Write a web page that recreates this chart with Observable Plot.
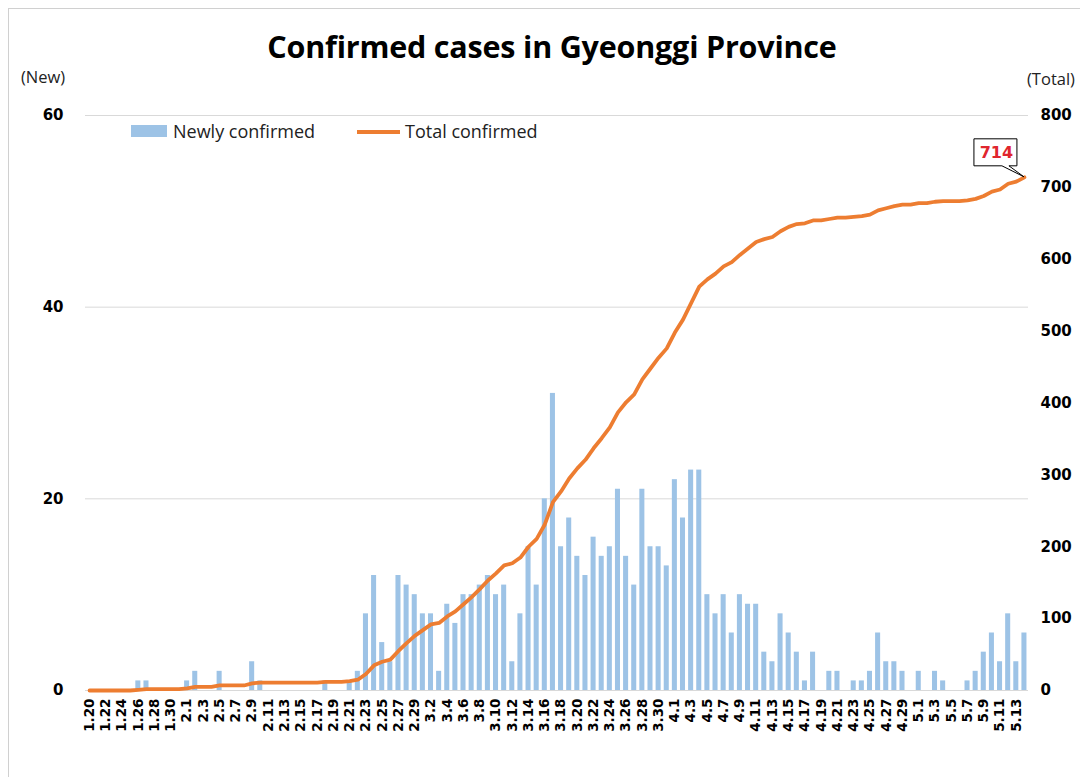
<!DOCTYPE html>
<html>
<head>
<meta charset="utf-8">
<script src="https://cdn.jsdelivr.net/npm/d3@7"></script>
<script src="https://cdn.jsdelivr.net/npm/@observablehq/plot@0.6"></script>
<style>
  body { margin: 0; background: #fff; }
  #wrap { position: relative; width: 1080px; height: 777px; overflow: hidden; background: #fff; }
  #frame { position: absolute; left: 8px; top: 8px; width: 1200px; height: 900px;
           border-left: 1px solid #d0d0d0; border-top: 1px solid #d0d0d0; }
  #title { position: absolute; left: 0; width: 1104px; top: 25px; text-align: center;
           font: 700 30.5px "Open Sans", sans-serif; color: #000; letter-spacing: -0.2px; }
  .unit { position: absolute; font: 400 16.5px "Open Sans", sans-serif; color: #222; }
  #legend { position: absolute; left: 131px; top: 119px; font: 400 18px "Open Sans", sans-serif; color: #222; }
  #legend span { position: absolute; white-space: nowrap; }
  #chart { position: absolute; left: 0; top: 95px; }
</style>
</head>
<body>
<div id="wrap">
  <div id="frame"></div>
  <div id="title">Confirmed cases in Gyeonggi Province</div>
  <div class="unit" style="left:21px;top:65px;">(New)</div>
  <div class="unit" style="left:1027px;top:67px;">(Total)</div>
  <div id="chart"></div>
  <div id="legend">
    <span style="left:0;top:6px;width:36px;height:12px;background:#9dc3e6;"></span>
    <span style="left:42px;top:0;">Newly confirmed</span>
    <span style="left:226px;top:11px;width:43px;height:3.5px;background:#ed7d31;"></span>
    <span style="left:274px;top:0;">Total confirmed</span>
  </div>
</div>
<script>
const dates = [
  "1.20","1.21","1.22","1.23","1.24","1.25","1.26","1.27","1.28","1.29","1.30","1.31",
  "2.1","2.2","2.3","2.4","2.5","2.6","2.7","2.8","2.9","2.10","2.11","2.12","2.13","2.14","2.15",
  "2.16","2.17","2.18","2.19","2.20","2.21","2.22","2.23","2.24","2.25","2.26","2.27","2.28","2.29",
  "3.1","3.2","3.3","3.4","3.5","3.6","3.7","3.8","3.9","3.10","3.11","3.12","3.13","3.14","3.15",
  "3.16","3.17","3.18","3.19","3.20","3.21","3.22","3.23","3.24","3.25","3.26","3.27","3.28","3.29",
  "3.30","3.31",
  "4.1","4.2","4.3","4.4","4.5","4.6","4.7","4.8","4.9","4.10","4.11","4.12","4.13","4.14","4.15",
  "4.16","4.17","4.18","4.19","4.20","4.21","4.22","4.23","4.24","4.25","4.26","4.27","4.28","4.29","4.30",
  "5.1","5.2","5.3","5.4","5.5","5.6","5.7","5.8","5.9","5.10","5.11","5.12","5.13","5.14"
];

const newCases = [
  0,0,0,0,0,0,1,1,0,0,0,0,
  1,2,0,0,2,0,0,0,3,1,0,0,0,0,0,0,0,1,0,0,1,2,8,12,5,3,12,11,10,
  8,8,2,9,7,10,10,11,12,10,11,3,8,15,11,20,31,15,18,14,12,16,14,15,21,14,11,21,15,15,13,
  22,18,23,23,10,8,10,6,10,9,9,4,3,8,6,4,1,4,0,2,2,0,1,1,2,6,3,3,2,0,
  2,0,2,1,0,0,1,2,4,6,3,8,3,6
];

const totals = [
  0,0,0,0,0,0,1,2,2,2,2,2,
  3,5,5,5,7,7,7,7,10,11,11,11,11,11,11,11,11,12,12,12,13,15,23,35,40,43,55,66,76,
  84,92,94,103,110,120,130,141,153,163,174,177,185,200,211,231,262,277,295,309,321,337,351,366,387,401,412,433,448,463,476,
  498,516,539,562,572,580,590,596,606,615,624,628,631,639,645,649,650,654,654,656,658,658,659,660,662,668,671,674,676,676,
  678,678,680,681,681,681,682,684,688,694,697,705,708,714
];

const leftTicks = [0, 20, 40, 60];
const rightTicks = [0, 100, 200, 300, 400, 500, 600, 700, 800];
const xTickLabels = dates.filter((d, i) => i % 2 === 0);

const k = 60 / 800; // total axis -> new axis
const rows = dates.map((d, i) => ({date: d, n: newCases[i], t: totals[i]}));
const last = rows[rows.length - 1];

const plot = Plot.plot({
  width: 1080,
  height: 682,
  marginLeft: 85,
  marginRight: 52,
  marginTop: 20,
  marginBottom: 87,
  x: {type: "band", domain: dates, paddingInner: 0.38, paddingOuter: 0.19, round: false},
  y: {domain: [0, 60]},
  style: {fontFamily: "DejaVu Sans", fontSize: "14px", color: "#000", background: "transparent", overflow: "visible"},
  marks: [
    Plot.gridY([20, 40, 60], {stroke: "#d9d9d9", strokeOpacity: 1}),
    Plot.barY(rows, {x: "date", y: "n", fill: "#9dc3e6"}),
    Plot.ruleY([0], {stroke: "#d9d9d9"}),
    Plot.lineY(rows, {x: "date", y: d => d.t * k, stroke: "#ed7d31", strokeWidth: 3.8, curve: "linear"}),
    Plot.axisY(leftTicks, {anchor: "left", tickSize: 0, tickPadding: 22, fontWeight: "bold", fontSize: 15, label: null}),
    Plot.axisY(rightTicks.map(v => v * k), {anchor: "right", tickSize: 0, tickPadding: 12, fontWeight: "bold", fontSize: 15,
      tickFormat: d => String(Math.round(d / k)), label: null}),
    Plot.axisX(xTickLabels, {anchor: "bottom", tickRotate: -90, tickSize: 0, tickPadding: 8, fontWeight: "bold", fontSize: 13.5, label: null}),
    Plot.text([last], {x: "date", y: d => d.t * k, text: d => String(d.t), dx: -28, dy: -24,
      fill: "#e0262e", fontWeight: "bold", fontSize: 16, fontFamily: "DejaVu Sans"})
  ]
});

document.getElementById("chart").appendChild(plot);

// callout box behind the "714" label, positioned through the plot's scales
const xs = plot.scale("x"), ys = plot.scale("y");
const px = xs.apply(last.date) + xs.bandwidth / 2;
const py = ys.apply(last.t * k);
const bx0 = px - 50, bx1 = px - 7, by0 = py - 38, by1 = py - 11;
const tailL = px - 22, tailR = px - 15;
const textGroup = plot.querySelector('g[aria-label="text"]');
const path = document.createElementNS("http://www.w3.org/2000/svg", "path");
path.setAttribute("d", `M${bx0},${by0}H${bx1}V${by1}H${tailR}L${px},${py}L${tailL},${by1}H${bx0}Z`);
path.setAttribute("fill", "#fff");
path.setAttribute("stroke", "#000");
path.setAttribute("stroke-width", "1");
plot.insertBefore(path, textGroup);
</script>
</body>
</html>
